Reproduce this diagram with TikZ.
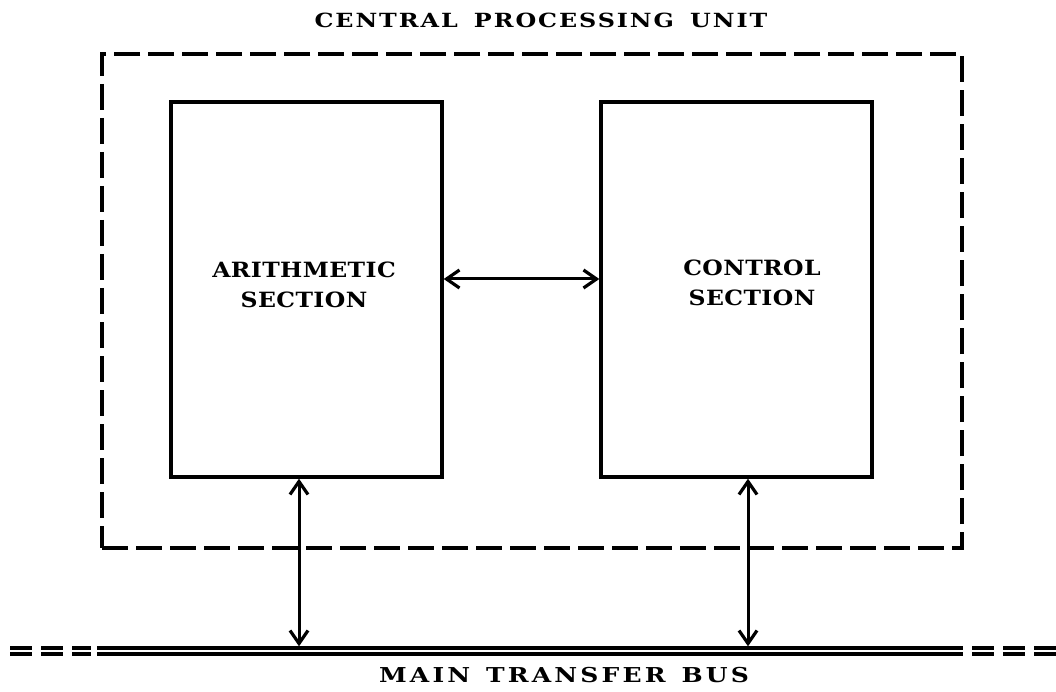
\documentclass[tikz,border=0pt]{standalone}
\usepackage{fontspec}
\setmainfont{DejaVu Serif}
\newfontfamily\titlefont[FakeStretch=1.22, LetterSpace=10]{DejaVu Serif Bold}
\newfontfamily\boxfont[FakeStretch=1.12, LetterSpace=2]{DejaVu Serif Bold}
\newfontfamily\busfont[FakeStretch=1.22, LetterSpace=15.5]{DejaVu Serif Bold}
\usetikzlibrary{arrows.meta}
\tikzset{
  lbl/.style={inner sep=0pt, anchor=north, align=center},
  section/.style={draw, line width=3.4pt, minimum width=271pt, minimum height=375pt,
    inner sep=0pt},
  cpu/.style={draw, line width=4pt, dash pattern=on 26pt off 8pt,
    minimum width=860pt, minimum height=494pt, inner sep=0pt},
  barb/.tip={Straight Barb[length=13pt,width=18pt,line width=3.2pt]},
  link/.style={line width=3pt, {barb}-{barb}},
  busline/.style={draw, line width=3.2pt, double, double distance=2.8pt},
  busend/.style={busline, dash pattern=on 22pt off 9pt}
}
\begin{document}
\begin{tikzpicture}[x=1pt, y=-1pt]
\useasboundingbox (0,0) rectangle (1056,692);

% enclosing processor outline and the two sections
\node[cpu] (cpu) at (532,301) {};
\node[section] (arith) at (306.5,289.5) {};
\node[section] (ctrl) at (736.5,289.5) {};

% labels
\node[lbl, font=\titlefont\fontsize{19.5}{30}\selectfont] (cputitle) at (541,13)
  {CENTRAL\hspace{6pt} PROCESSING\hspace{6pt} UNIT};
\node[lbl, font=\boxfont\fontsize{21}{30}\selectfont] (arithtext) at (304,262)
  {ARITHMETIC\\SECTION};
\node[lbl, font=\boxfont\fontsize{21}{30}\selectfont] (ctrltext) at (752,260)
  {CONTROL\\SECTION};

% main transfer bus
\node[inner sep=0pt, minimum width=866pt, minimum height=9pt] (bus) at (530,651) {};
\coordinate (busLend) at (10,651);
\coordinate (busRend) at (1056,651);
\draw[busline] (bus.west) -- (bus.east);
\draw[busend] (busLend) -- ([xshift=-6pt]bus.west);
\draw[busend] ([xshift=9pt]bus.east) -- (busRend);
\node[lbl, font=\busfont\fontsize{20.5}{30}\selectfont] (bustext) at (564,667)
  {MAIN\hspace{4pt} TRANSFER\hspace{4pt} BUS};

% data paths
\draw[link] ([yshift=10.5pt]arith.east) -- ([yshift=10.5pt]ctrl.west);
\draw[link] ([xshift=-7.5pt]arith.south) -- ([xshift=-7.5pt]arith.south |- bus.north);
\draw[link] ([xshift=11.5pt]ctrl.south) -- ([xshift=11.5pt]ctrl.south |- bus.north);
\end{tikzpicture}
\end{document}
